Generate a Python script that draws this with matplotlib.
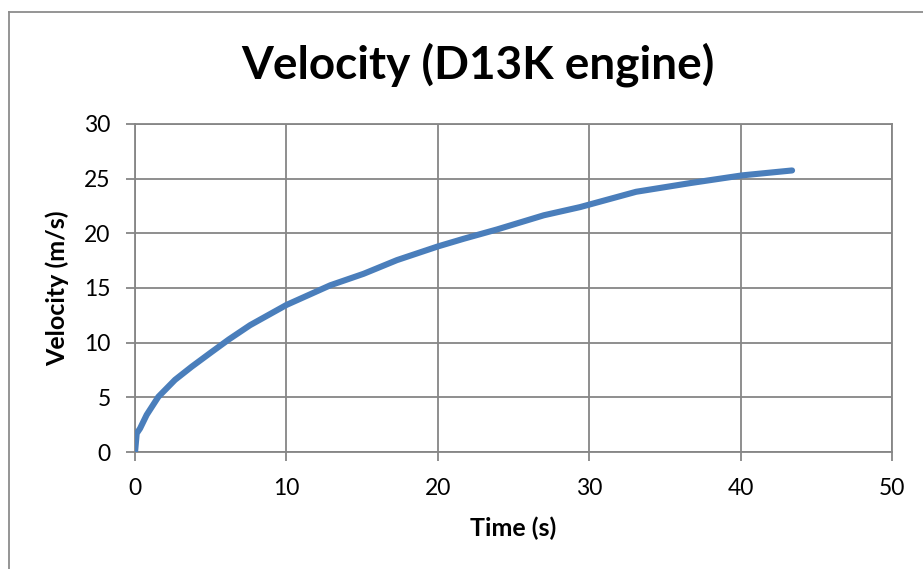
import matplotlib
matplotlib.use("Agg")
import matplotlib.pyplot as plt
from matplotlib.lines import Line2D

# Measured velocity of the D13K engine run
time_s = [0.0, 0.11, 0.33, 0.77, 1.54, 2.64, 3.74, 5.06, 6.2, 7.6, 10.0, 12.9,
          15.1, 17.3, 20.0, 21.7, 23.9, 27.0, 29.4, 33.1, 36.7, 40.1, 43.4]
velocity_ms = [0.0, 1.7, 2.15, 3.4, 5.05, 6.6, 7.8, 9.15, 10.3, 11.6, 13.45, 15.25,
               16.3, 17.55, 18.8, 19.5, 20.35, 21.65, 22.4, 23.8, 24.6, 25.3, 25.75]

x_ticks = [0, 10, 20, 30, 40, 50]
y_ticks = [0, 5, 10, 15, 20, 25, 30]

plt.rcParams['font.family'] = ['Lato', 'DejaVu Sans']

fig = plt.figure(figsize=(9.23, 5.69), dpi=100)
ax = fig.add_axes([0.1463, 0.2056, 0.8201, 0.5765])

grid_col = '#868686'
ax.plot(time_s, velocity_ms, color='#4A7EBB', lw=4.4, solid_capstyle='round',
        solid_joinstyle='round', zorder=3)

ax.set_xlim(0, 50)
ax.set_ylim(0, 30)
ax.set_xticks(x_ticks)
ax.set_yticks(y_ticks)
ax.grid(True, color=grid_col, lw=1.3)
ax.set_axisbelow(True)
for s in ax.spines.values():
    s.set_color(grid_col)
    s.set_linewidth(1.3)
ax.tick_params(axis='both', direction='out', length=6.5, width=1.3, color=grid_col,
               labelsize=16.5)
ax.tick_params(axis='x', pad=12)
ax.tick_params(axis='y', pad=11)

ax.set_xlabel('Time (s)', fontsize=18, fontweight='bold')
ax.set_ylabel('Velocity (m/s)', fontsize=18, fontweight='bold')
ax.xaxis.set_label_coords(0.5, -0.232)
ax.xaxis.label.set_va('center')
ax.yaxis.set_label_coords(-0.102, 0.5)
ax.yaxis.label.set_va('center')

fig.text(0.518, 1 - 65 / 569, 'Velocity (D13K engine)', ha='center', va='center',
         fontsize=33, fontweight='bold')

# chart frame
fig.add_artist(Line2D([8.5 / 923, 8.5 / 923], [0, 1 - 11.5 / 569], color='#8c8c8c',
                      lw=1.3, transform=fig.transFigure))
fig.add_artist(Line2D([8.5 / 923, 1], [1 - 11.5 / 569, 1 - 11.5 / 569], color='#8c8c8c',
                      lw=1.3, transform=fig.transFigure))

fig.savefig('out.png', dpi=100)
